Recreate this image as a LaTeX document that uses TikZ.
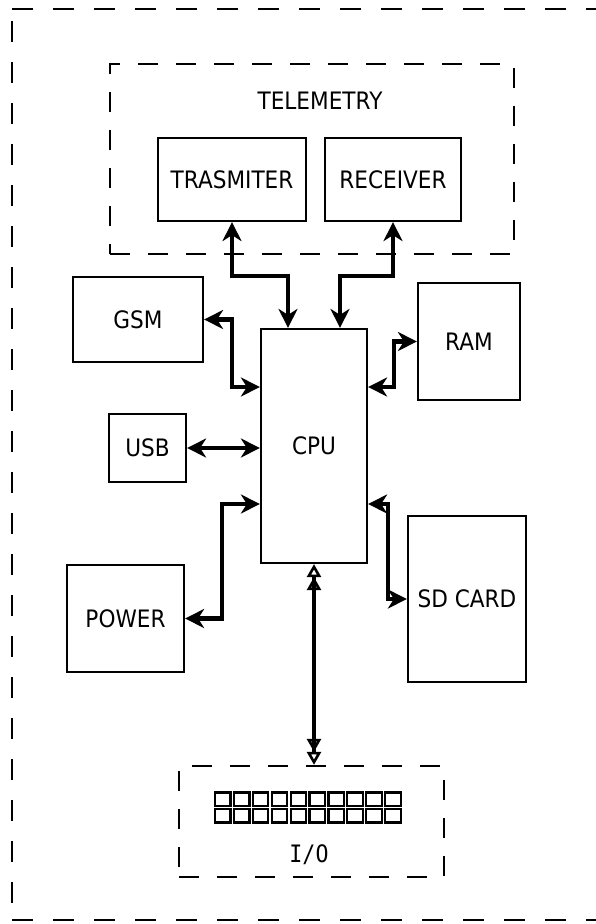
\documentclass[tikz,border=0pt]{standalone}
\usepackage{fontspec}
\setmainfont{DejaVu Sans}[FakeStretch=0.9]
\newfontfamily\iofont{DejaVu Sans Mono}[FakeStretch=0.9]
\usetikzlibrary{arrows.meta}
\tikzset{
  blk/.style={draw, line width=2.2pt, inner sep=0pt, font=\fontsize{24}{27}\selectfont},
  dbox/.style={draw, line width=2.3pt, dash pattern=on 20pt off 18pt, inner sep=0pt},
  lbl/.style={font=\fontsize{24}{27}\selectfont, inner sep=0pt},
  arr/.style={line width=4.2pt, line join=miter,
    {Stealth[length=19pt,width=19pt,inset=6pt]}-{Stealth[length=19pt,width=19pt,inset=6pt]}},
  dtri/.style={line width=3.6pt,
    {Triangle[open,length=13pt,width=14pt,line width=2.6pt]Triangle[open,length=13pt,width=14pt,line width=2.6pt]}-{Triangle[open,length=13pt,width=14pt,line width=2.6pt]Triangle[open,length=13pt,width=14pt,line width=2.6pt]}},
  pin/.style={draw, line width=2.2pt}
}
\begin{document}
\begin{tikzpicture}[x=1pt,y=-1pt]
\useasboundingbox (0,0) rectangle (596,924);
\clip (0,0) rectangle (596,924);
\fill[white] (0,0) rectangle (596,924);
% outer dashed frame
\draw[line width=2.6pt, dash pattern=on 21pt off 20pt] (12,9) -- (640,9);
\draw[line width=2.6pt, dash pattern=on 21pt off 20pt, dash phase=-12pt] (12,9) -- (12,920);
\draw[line width=2.6pt, dash pattern=on 21pt off 20pt] (12,920) -- (640,920);
% telemetry group
\node[dbox, minimum width=404pt, minimum height=190pt] (tel) at (312,159) {};
\node[lbl] (tlabel) at (320,101) {TELEMETRY};
\node[blk, minimum width=148pt, minimum height=83pt] (trans) at (232,179.5) {TRASMITER};
\node[blk, minimum width=136pt, minimum height=83pt] (recv) at (393,179.5) {RECEIVER};
% blocks
\node[blk, minimum width=130pt, minimum height=85pt] (gsm) at (138,319.5) {GSM};
\node[blk, minimum width=106pt, minimum height=234pt] (cpu) at (314,446) {CPU};
\node[blk, minimum width=102pt, minimum height=117pt] (ram) at (469,341.5) {RAM};
\node[blk, minimum width=77pt, minimum height=68pt] (usb) at (147.5,448) {USB};
\node[blk, minimum width=117pt, minimum height=107pt] (power) at (125.5,618.5) {POWER};
\node[blk, minimum width=118pt, minimum height=166pt] (sd) at (467,599) {SD CARD};
% I/O group
\node[dbox, minimum width=265pt, minimum height=111pt] (io) at (311.5,821.5) {};
\node[lbl, font=\iofont\fontsize{24}{27}\selectfont] (iolabel) at (309,855) {I/O};
\foreach \i in {0,...,9} {
  \draw[pin] ({215+\i*18.9},792.5) rectangle ++(15.5,13.5);
  \draw[pin] ({215+\i*18.9},809) rectangle ++(15.5,13.5);
}
% connectors
\draw[arr] (trans.south) -- (232,276) -- (288,276) -- (288,0 |- cpu.north);
\draw[arr] (recv.south) -- (393,276) -- (340,276) -- (340,0 |- cpu.north);
\draw[arr] (gsm.east) -- (232,319.5) -- (232,387) -- (cpu.west |- 0,387);
\draw[arr] (usb.east) -- (cpu.west |- usb.east);
\draw[arr] (power.east) -- (222,618.5) -- (222,504) -- (cpu.west |- 0,504);
\draw[arr] (cpu.east |- 0,387) -- (394,387) -- (394,341.5) -- (ram.west);
\draw[arr] (cpu.east |- 0,504) -- (388,504) -- (388,599) -- (sd.west);
\draw[dtri] (cpu.south) -- (cpu.south |- io.north);
\end{tikzpicture}
\end{document}
